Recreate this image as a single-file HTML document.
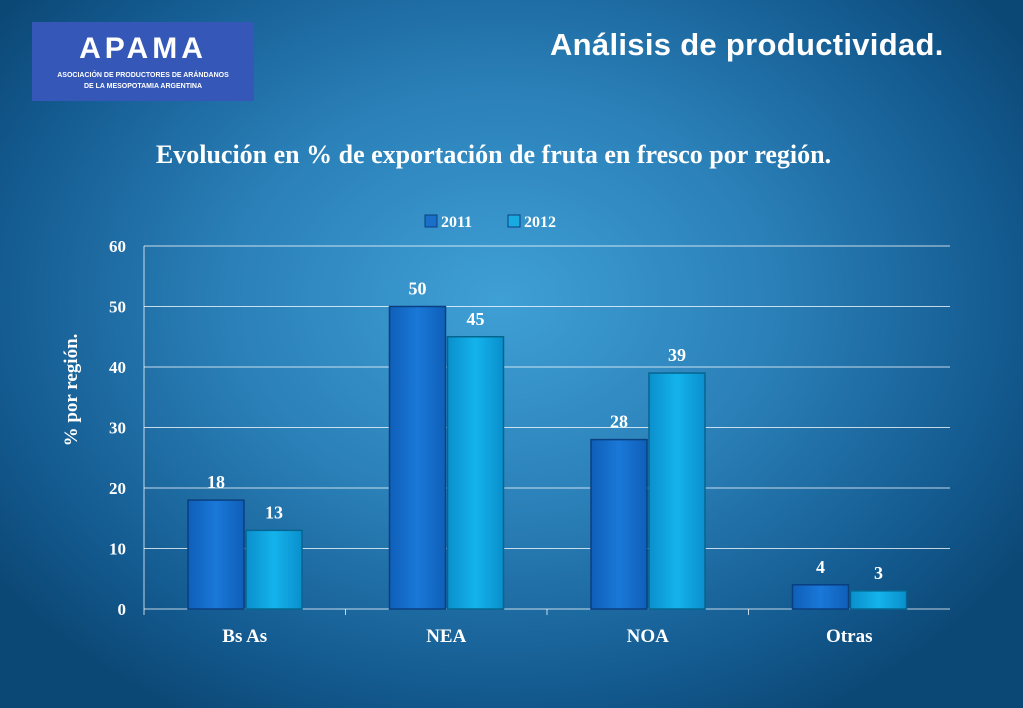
<!DOCTYPE html>
<html><head><meta charset="utf-8"><style>
html,body{margin:0;padding:0}
body{width:1023px;height:708px;overflow:hidden;position:relative;font-family:"Liberation Serif",serif;
background:radial-gradient(ellipse 620px 480px at 500px 300px,#3fa0d6 0%,#2a7fb7 45%,#145c92 80%,#0c4876 100%);}
#logo{position:absolute;left:32px;top:22px;width:222px;height:79px;background:#3558b8;}
#logo .big{position:absolute;left:0;width:222px;top:10px;text-align:center;color:#fff;font:bold 30px "Liberation Sans",sans-serif;letter-spacing:4px;}
#logo .sm{position:absolute;left:0;width:222px;text-align:center;color:#fff;font:bold 7px "Liberation Sans",sans-serif;}
#title{position:absolute;left:550px;top:27px;color:#fff;font:bold 31px "Liberation Sans",sans-serif;letter-spacing:0.3px;white-space:nowrap}
#sub{position:absolute;width:1023px;text-align:center;left:-18px;top:140px;color:#fff;font:bold 26px "Liberation Serif",serif;white-space:nowrap}
svg{position:absolute;left:0;top:0}
svg text{font-family:"Liberation Serif",serif;font-weight:bold;fill:#fff}
</style></head><body>
<div id="logo">
<div class="big">APAMA</div>
<div class="sm" style="top:50px">ASOCIACIÓN DE PRODUCTORES DE ARÁNDANOS</div>
<div class="sm" style="top:61px">DE LA MESOPOTAMIA ARGENTINA</div>
</div>
<div id="title">Análisis de productividad.</div>
<div id="sub">Evolución en % de exportación de fruta en fresco por región.</div>
<svg id="chart" width="1023" height="708">
<defs>
<linearGradient id="g1" x1="0" y1="0" x2="1" y2="0"><stop offset="0" stop-color="#0f5fb8"/><stop offset=".5" stop-color="#1a78d8"/><stop offset="1" stop-color="#0f5fb8"/></linearGradient>
<linearGradient id="g2" x1="0" y1="0" x2="1" y2="0"><stop offset="0" stop-color="#0a8fcc"/><stop offset=".5" stop-color="#14b3ec"/><stop offset="1" stop-color="#0a8fcc"/></linearGradient>
</defs>
</svg>
<script>
const categories=["Bs As","NEA","NOA","Otras"];
const series2011=[18,50,28,4];
const series2012=[13,45,39,3];
const yTicks=[0,10,20,30,40,50,60];
const svg=document.getElementById('chart');
const NS='http://www.w3.org/2000/svg';
const L=144,R=950,T=246,B=609,YMAX=60;
const y=v=>B-(v/YMAX)*(B-T);
const cw=(R-L)/categories.length;
const x=i=>L+i*cw;
function mk(t,a,txt){const e=document.createElementNS(NS,t);for(const k in a)e.setAttribute(k,a[k]);if(txt!==undefined)e.textContent=txt;svg.appendChild(e);return e;}
yTicks.forEach(v=>{
 const g=mk('line',{x1:L,x2:R,y1:y(v),y2:y(v),stroke:'rgba(255,255,255,0.75)','stroke-width':1});
 
 
 const t=mk('text',{x:L-18,y:y(v)+6,'text-anchor':'end','font-size':17},v);
 
 
});
mk('line',{x1:L,x2:L,y1:T,y2:B,stroke:'rgba(255,255,255,0.75)'});
categories.forEach((c,i)=>{
 const tk=mk('line',{x1:x(i),x2:x(i),y1:B,y2:B+6,stroke:'rgba(255,255,255,0.75)'});
 
 
 const t=mk('text',{x:x(i)+cw/2,y:B+33,'text-anchor':'middle','font-size':19},c);
 
 
 [[series2011,'g1',44,'#0a3f80'],[series2012,'g2',102,'#06658f']].forEach(([s,g,off,st])=>{
  const v=s[i],bx=x(i)+off,bw=56;
  const r=mk('rect',{x:bx,y:y(v),width:bw,height:B-y(v),fill:'url(#'+g+')',stroke:st,'stroke-width':1.5});
  
  
  const l=mk('text',{x:bx+bw/2,y:y(v)-12,'text-anchor':'middle','font-size':18},v);
  
  
 });
});
const yt=mk('text',{x:0,y:0,'font-size':19,'text-anchor':'middle',transform:'translate(77,390) rotate(-90)'},'% por región.');


[['2011','#1a6fc8',425],['2012','#1aaae2',508]].forEach(([n,col,lx])=>{
 const s=mk('rect',{x:lx,y:215,width:12,height:12,fill:col,stroke:'#0a3f80'});
 
 
 const t=mk('text',{x:lx+16,y:227,'font-size':16},n);
 
 
});
</script>
</body></html>
